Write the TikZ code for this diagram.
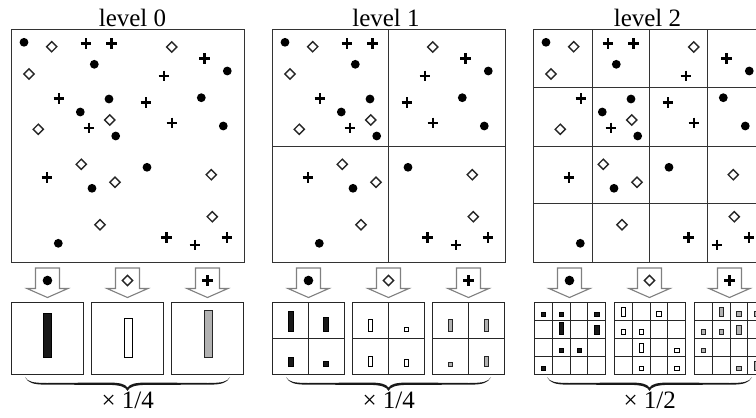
\documentclass[tikz,border=0pt]{standalone}
\usepackage{fontspec}
\setmainfont{Liberation Serif}
\newcommand\mybar[5]{\draw[#1] ({#2-#4/2},#3) rectangle ({#2+#4/2},{#3-#5});}
\newcommand\cellbar[5]{%
  \pgfmathsetmacro\cbx{534.3+80*#2+17.875*(#3+0.5)}%
  \pgfmathsetmacro\cby{302.3+18.05*(#4+1)-4.4}%
  \pgfmathsetmacro\cbh{(#5==1)?4.2:((#5==2)?8.3:11.3)}%
  \draw[#1] ({\cbx-2.2},\cby) rectangle ({\cbx+2.2},{\cby-\cbh});}
\newcommand\cbrace[3]{%
  \pgfmathsetmacro\cm{(#1+#2)/2}%
  \fill[black!90] (#1,#3) .. controls ({#1+3},{#3+6}) and ({#1+8},{#3+7.6}) .. ({#1+22},{#3+7.7})
   -- ({\cm-20},{#3+7.8}) .. controls ({\cm-8},{#3+8}) and ({\cm-2},{#3+9.5}) .. (\cm,{#3+13.8})
   .. controls ({\cm+2},{#3+9.5}) and ({\cm+8},{#3+8}) .. ({\cm+20},{#3+7.8})
   -- ({#2-22},{#3+7.7}) .. controls ({#2-8},{#3+7.6}) and ({#2-3},{#3+6}) .. (#2,#3)
   .. controls ({#2-3},{#3+5}) and ({#2-8},{#3+5.9}) .. ({#2-22},{#3+6})
   -- ({\cm+20},{#3+5.5}) .. controls ({\cm+8},{#3+5.5}) and ({\cm+2},{#3+7}) .. (\cm,{#3+10.5})
   .. controls ({\cm-2},{#3+7}) and ({\cm-8},{#3+5.5}) .. ({\cm-20},{#3+5.5})
   -- ({#1+22},{#3+6}) .. controls ({#1+8},{#3+5.9}) and ({#1+3},{#3+5}) .. (#1,#3) -- cycle;}
\begin{document}
\begin{tikzpicture}[x=1pt,y=-1pt,
  frame/.style={draw=black!80, line width=1.2pt},
  gridline/.style={draw=black!80, line width=1pt},
  hgrid/.style={draw=black!85, line width=1.1pt},
  hframe/.style={draw=black!85, line width=1.3pt},
  diam/.style={draw=black!85, line width=1.4pt, line join=miter},
  plusm/.style={draw=black, line width=2.6pt},
  arrowbox/.style={draw=black!50, line width=1.1pt, fill=white, line join=miter},
  barblack/.style={fill=black!90, draw=black, line width=0.5pt},
  barwhite/.style={fill=white, draw=black, line width=0.8pt},
  bargray/.style={fill=black!30, draw=black!85, line width=0.8pt},
  lab/.style={font=\fontsize{25}{30}\selectfont, inner sep=0pt, anchor=base},
  pdot/.pic={\fill (0,0) circle[radius=4.4pt];},
  pdotA/.pic={\fill (0,0) circle[radius=4.8pt];},
  pdiam/.pic={\draw[diam] (-5.1,0) -- (0,-5.1) -- (5.1,0) -- (0,5.1) -- cycle;},
  pplus/.pic={\draw[plusm] (-5.3,0) -- (5.3,0) (0,-5.3) -- (0,5.3);}
]
\useasboundingbox (0,0) rectangle (756,418);
\fill[white] (0,0) rectangle (756,418);
\clip (0,0) rectangle (756,418);

% titles
\node[lab] (t0) at (132.5,26) {level 0};
\node[lab] (t1) at (386,26) {level 1};
\node[lab] (t2) at (647.5,26) {level 2};

% panels with points
\foreach \k in {0,1,2}{
  \pgfmathsetmacro\ox{11.7+261*\k}
  \draw[frame] (\ox,29.3) rectangle ({\ox+232.5},262.5);
  \foreach \px/\py in {12.3/13, 82.6/35, 215.6/41.7, 97.3/69.7, 189.6/68.4, 68.6/82.7, 211.6/96.7, 104/106.7, 135.3/138, 80.3/159, 46.6/214}
    {\pic at ({\ox+\px},{29.3+\py}) {pdot};}
  \foreach \px/\py in {40/17.4, 160/17.7, 17.3/44.7, 98/90.7, 26.6/100, 69.6/135, 199.6/145.4, 103.3/153, 200.6/187.4, 88.3/195.4}
    {\pic at ({\ox+\px},{29.3+\py}) {pdiam};}
  \foreach \px/\py in {74.3/14, 99.6/14, 192.6/29.4, 152.3/46.7, 47.3/69.4, 134.3/73, 77.3/98.7, 160.3/93.7, 35.3/148.4, 155/208.4, 183.3/215.7, 215.3/208.4}
    {\pic at ({\ox+\px},{29.3+\py}) {pplus};}
}
% grid lines of panels
\draw[gridline] (388.5,29.3) -- (388.5,262.5) (272.7,146.5) -- (505.2,146.5);
\foreach \gx in {592.3,649.7,707.3} {\draw[gridline] (\gx,29.3) -- (\gx,262.5);}
\foreach \gy in {87.3,146.7,203.3} {\draw[gridline] (533.7,\gy) -- (766.2,\gy);}

% arrows
\foreach \k in {0,1,2}{
  \foreach \j/\m in {0/pdotA,1/pdiam,2/pplus}{
    \pgfmathsetmacro\cx{11.7+261*\k+80*\j+35.75}
    \draw[arrowbox] ({\cx-12},268) -- ({\cx+12},268) -- ({\cx+12},288.5) -- ({\cx+20.5},288.5) -- (\cx,297.5) -- ({\cx-20.5},288.5) -- ({\cx-12},288.5) -- cycle;
    \pic at (\cx,280.5) {\m};
  }
}

% histogram boxes
\foreach \k in {0,1,2}{
  \foreach \j in {0,1,2}{
    \pgfmathsetmacro\hx{11.7+261*\k+80*\j+(\k==2?0.6:0)}
    \draw[hframe] (\hx,302.3) rectangle ({\hx+71.5},374.5);
    \ifnum\k=1
      \draw[hgrid] ({\hx+35.75},302.3) -- ({\hx+35.75},374.5) (\hx,338.4) -- ({\hx+71.5},338.4);
    \fi
    \ifnum\k=2
      \foreach \q in {1,2,3}{
        \draw[hgrid] ({\hx+17.875*\q},302.3) -- ({\hx+17.875*\q},374.5) (\hx,{302.3+18.05*\q}) -- ({\hx+71.5},{302.3+18.05*\q});
      }
    \fi
  }
}

% level 0 bars
\mybar{barblack}{47.2}{357}{8}{43.4}
\mybar{barwhite}{128.3}{357}{8}{38.4}
\mybar{bargray}{208.3}{357}{8}{46.7}

% level 1 bars
\mybar{barblack}{290.5}{331.7}{4.6}{20}
\mybar{barblack}{326.2}{331.7}{5}{14}
\mybar{barblack}{290.5}{366}{5}{8.3}
\mybar{barblack}{326.2}{366}{5}{4.3}
\mybar{barwhite}{370.5}{331.7}{3.6}{12.3}
\mybar{barwhite}{406.2}{331.7}{3.6}{4}
\mybar{barwhite}{370.5}{366}{3.6}{9.3}
\mybar{barwhite}{406.2}{366}{3.6}{6.7}
\mybar{bargray}{450.5}{331.7}{3.6}{12.3}
\mybar{bargray}{486.2}{331.7}{3.6}{12.3}
\mybar{bargray}{450.5}{366}{3.6}{3.7}
\mybar{bargray}{486.2}{366}{3.6}{9.3}

% level 2 bars
\foreach \c/\r/\n in {0/0/1, 1/0/1, 3/0/1, 1/1/3, 3/1/2, 1/2/1, 2/2/1, 0/3/1}
  {\cellbar{barblack}{0}{\c}{\r}{\n}}
\foreach \c/\r/\n in {0/0/2, 2/0/1, 0/1/1, 1/1/1, 1/2/2, 3/2/1, 1/3/1, 3/3/1}
  {\cellbar{barwhite, line width=0.7pt}{1}{\c}{\r}{\n}}
\foreach \c/\r/\n in {1/0/2, 2/0/1, 3/0/1, 0/1/1, 1/1/1, 2/1/2, 0/2/1, 2/3/1, 3/3/2}
  {\cellbar{bargray, line width=0.7pt}{2}{\c}{\r}{\n}}

% braces and factors
\foreach \k/\fac in {0/{× 1/4}, 1/{× 1/4}, 2/{× 1/2}}{
  \cbrace{25+261*\k}{230+261*\k}{377}
  \node[lab] (f\k) at ({127.7+261*\k},408.3) {\fac};
}
\end{tikzpicture}
\end{document}
